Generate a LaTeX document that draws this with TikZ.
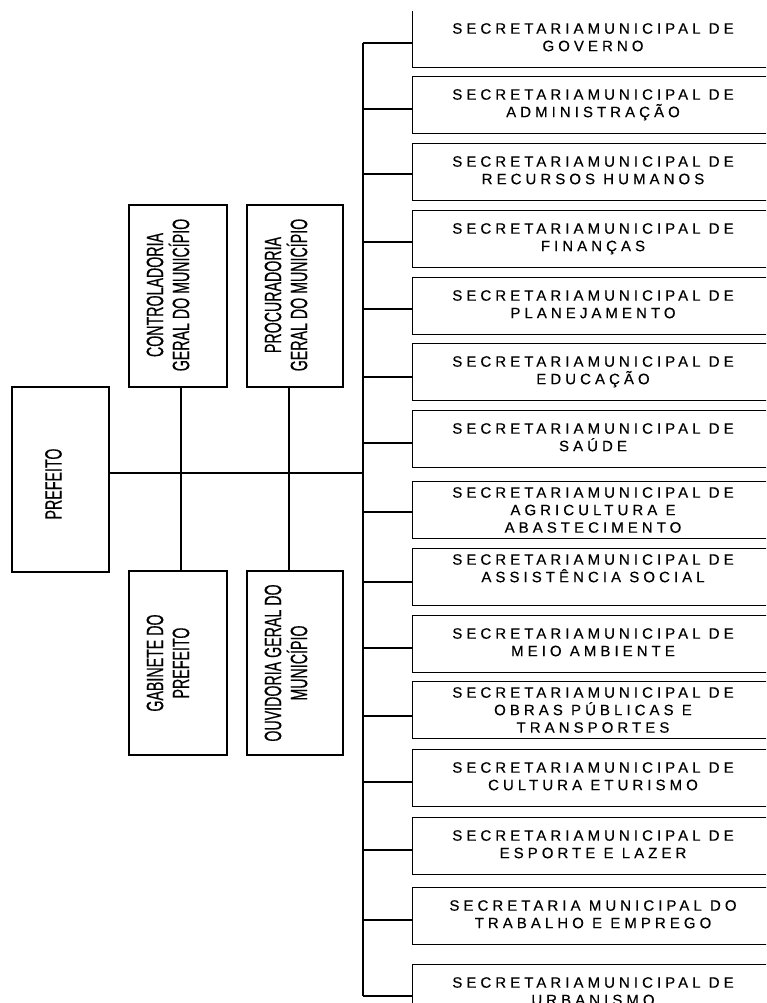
\documentclass[tikz,border=0pt]{standalone}
\usepackage{fontspec}
\newfontfamily\secfont[LetterSpace=27,FakeBold=0.4]{Liberation Sans}
\newfontfamily\leftfont[FakeStretch=0.6,FakeBold=0.4]{Liberation Sans}
\begin{document}
\begin{tikzpicture}[x=1pt,y=-1pt,
  box/.style={draw=black,line width=1.3pt,fill=white,inner sep=0pt},
  sbox/.style={box,minimum width=362pt,minimum height=57pt,anchor=north west},
  stxt/.style={inner sep=0pt,anchor=north,align=center,font=\secfont\fontsize{15}{17.5}\selectfont},
  ltxt/.style={inner sep=0pt,rotate=90,align=center,font=\leftfont\fontsize{23.7}{26}\selectfont},
  conn/.style={line width=1.3pt,draw=black}]
\path[use as bounding box] (0,0) rectangle (766,1003);
\clip (0,12) rectangle (766,1003);
% left boxes
\node[box,minimum width=97pt,minimum height=185pt] (pref) at (60.5,479.5) {};
\node[box,minimum width=98pt,minimum height=182pt] (contr) at (178,296) {};
\node[box,minimum width=96pt,minimum height=182pt] (proc) at (295,296) {};
\node[box,minimum width=98pt,minimum height=184pt] (gab) at (178,663) {};
\node[box,minimum width=96pt,minimum height=184pt] (ouv) at (295,663) {};
\node[ltxt] (pref-t) at (53.5,484) {PREFEITO};
\node[ltxt] (contr-t) at (168,295) {CONTROLADORIA\\GERAL DO MUNICÍPIO};
\node[ltxt] (proc-t) at (286,295) {PROCURADORIA\\GERAL DO MUNICÍPIO};
\node[ltxt] (gab-t) at (168,663) {GABINETE DO\\PREFEITO};
\node[ltxt] (ouv-t) at (286,663) {OUVIDORIA GERAL DO\\MUNICÍPIO};
% right boxes
\foreach \i/\t/\o/\txt in {
 1/10/13/{SECRETARIAMUNICIPAL DE\\GOVERNO},
 2/76/13/{SECRETARIAMUNICIPAL DE\\ADMINISTRAÇÃO},
 3/143/13/{SECRETARIAMUNICIPAL DE\\RECURSOS HUMANOS},
 4/210/13/{SECRETARIAMUNICIPAL DE\\FINANÇAS},
 5/277/13/{SECRETARIAMUNICIPAL DE\\PLANEJAMENTO},
 6/343/13/{SECRETARIAMUNICIPAL DE\\EDUCAÇÃO},
 7/410/13/{SECRETARIAMUNICIPAL DE\\SAÚDE},
 8/481/6/{SECRETARIAMUNICIPAL DE\\AGRICULTURA E\\ABASTECIMENTO},
 9/548/6/{SECRETARIAMUNICIPAL DE\\ASSISTÊNCIA SOCIAL},
 10/615/13/{SECRETARIAMUNICIPAL DE\\MEIO AMBIENTE},
 11/681/6/{SECRETARIAMUNICIPAL DE\\OBRAS PÚBLICAS E\\TRANSPORTES},
 12/749/13/{SECRETARIAMUNICIPAL DE\\CULTURA ETURISMO},
 13/817/13/{SECRETARIAMUNICIPAL DE\\ESPORTE E LAZER},
 14/887/13/{SECRETARIA MUNICIPAL DO\\TRABALHO E EMPREGO},
 15/964/13/{SECRETARIAMUNICIPAL DE\\URBANISMO}}{
  \node[sbox] (s\i) at (412,\t) {};
  \node[stxt] (s\i-t) at (593,\t+\o) {\txt};
}
% trunk coordinates
\foreach \i/\y in {1/43,2/109,3/174,4/242,5/309,6/377,7/443,8/512,9/582,10/648,11/716,12/782,13/850,14/920,15/996}{
  \coordinate (t\i) at (363,\y);
  \draw[conn] (t\i) -- (t\i -| s\i.west);
}
\draw[conn] (t1) -- (t15);
\coordinate (hub) at (363,473);
\coordinate (c1) at (181,473);
\coordinate (c2) at (289,473);
\draw[conn] (pref.east |- hub) -- (hub);
\draw[conn] (c1 |- contr.south) -- (c1 |- gab.north);
\draw[conn] (c2 |- proc.south) -- (c2 |- ouv.north);
\end{tikzpicture}
\end{document}
